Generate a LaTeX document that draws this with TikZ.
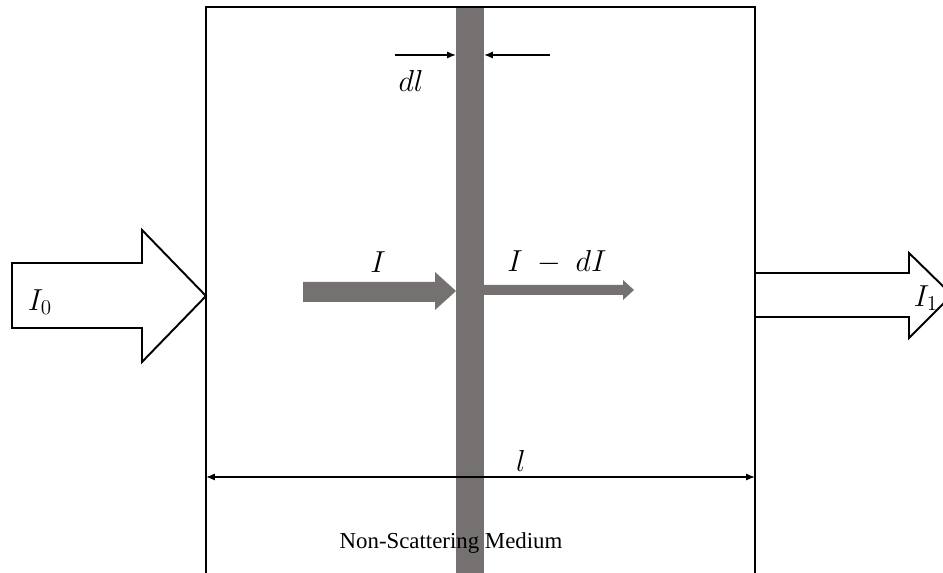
\documentclass[tikz,border=0pt]{standalone}
\usepackage{fontspec}
\setmainfont{Liberation Serif}
\usetikzlibrary{arrows.meta}
\definecolor{slab}{RGB}{117,113,112}
\begin{document}
\begin{tikzpicture}[x=0.02cm,y=-0.02cm,outline/.style={draw=black, line width=1.1pt},bigarrow/.style={draw=black, fill=white, line width=1.1pt, line join=miter},flow/.style={fill=slab},dim/.style={{Latex[length=5pt,width=4pt]}-{Latex[length=5pt,width=4pt]}, line width=0.8pt},pointer/.style={-{Latex[length=5pt,width=4pt]}, line width=0.8pt},sym/.style={font=\fontsize{18}{20}\selectfont}]
\useasboundingbox (0,0) rectangle (943,573);
% incident and transmitted beams
\draw[bigarrow] (12,263) -- (142,263) -- (142,230) -- (206,296) -- (142,362) -- (142,328) -- (12,328) -- cycle;
\draw[bigarrow] (755,273) -- (909,273) -- (909,253) -- (952,295) -- (909,338) -- (909,317) -- (755,317);
\node[sym] (Izero) at (40,302) {$I_0$};
\node[sym] (Ione) at (926,298) {$I_1$};
% absorbing slab and medium
\fill[slab] (456,7) rectangle (484,590);
\draw[outline] (206,590) -- (206,7) -- (755,7) -- (755,590);
% beam inside the medium
\fill[flow] (303,282) -- (435,282) -- (435,272) -- (456,291) -- (435,310) -- (435,302) -- (303,302) -- cycle;
\fill[flow] (484,285) -- (623,285) -- (623,280) -- (634,290) -- (623,300) -- (623,295) -- (484,295) -- cycle;
\node[sym] (Iin) at (378,262) {$I$};
\node[sym] (Iout) at (557,262) {$I\ -\ dI$};
% slab thickness
\coordinate (dlfrom) at (395,55);\coordinate (slabL) at (456,55);
\coordinate (dlto) at (550,55);\coordinate (slabR) at (484,55);
\draw[pointer] (dlfrom) -- (slabL);\draw[pointer] (dlto) -- (slabR);
\node[sym] (dl) at (411,81) {$dl$};
% medium length
\coordinate (lL) at (206,477);\coordinate (lR) at (755,477);
\draw[dim] (lL) -- (lR);
\node[sym] (len) at (521,461) {$l$};
\node[font=\fontsize{13}{15}\selectfont] (medium) at (451,543) {Non-Scattering Medium};
\end{tikzpicture}
\end{document}
